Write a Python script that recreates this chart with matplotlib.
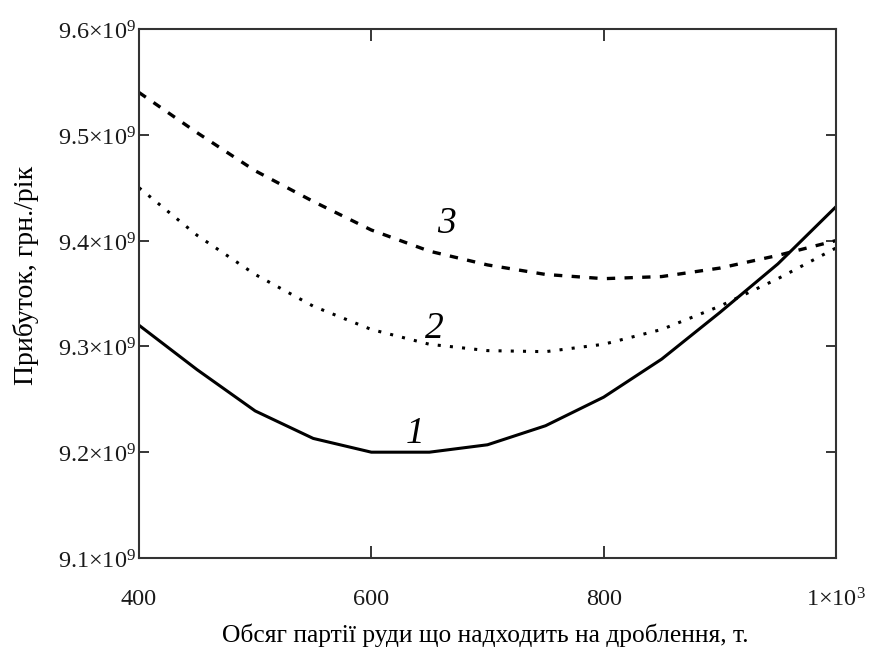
import matplotlib
matplotlib.use("Agg")
import matplotlib.pyplot as plt
from matplotlib.ticker import FixedLocator, FixedFormatter
from matplotlib.transforms import ScaledTranslation

plt.rcParams['font.family'] = ['Liberation Serif', 'DejaVu Serif']
plt.rcParams['mathtext.fontset'] = 'custom'
plt.rcParams['mathtext.rm'] = 'Liberation Serif'
plt.rcParams['mathtext.it'] = 'Liberation Serif:italic'

# Batch size, t
batch = [400, 450, 500, 550, 600, 650, 700, 750, 800, 850, 900, 950, 1000]

# Profit, UAH/year (x1e9)
profit_1 = [9.320, 9.278, 9.239, 9.213, 9.200, 9.200, 9.207, 9.225, 9.252, 9.288, 9.332, 9.378, 9.432]
profit_2 = [9.450, 9.405, 9.368, 9.338, 9.316, 9.302, 9.296, 9.295, 9.302, 9.316, 9.338, 9.364, 9.393]
profit_3 = [9.540, 9.502, 9.466, 9.437, 9.410, 9.390, 9.377, 9.368, 9.364, 9.366, 9.374, 9.386, 9.400]

x_ticks = [400, 600, 800, 1000]
x_tick_labels = ["400", "600", "800", r"$1{\times}10^{3}$"]
y_ticks = [9.1e9, 9.2e9, 9.3e9, 9.4e9, 9.5e9, 9.6e9]
y_tick_labels = [r"$9.1{\times}10^{9}$", r"$9.2{\times}10^{9}$", r"$9.3{\times}10^{9}$",
                 r"$9.4{\times}10^{9}$", r"$9.5{\times}10^{9}$", r"$9.6{\times}10^{9}$"]

curve_labels = ["1", "2", "3"]
label_pos = [(637.5, 9.2089e9), (654.0, 9.3083e9), (665.0, 9.4068e9)]

fig = plt.figure(figsize=(8.73, 6.59), dpi=100)
ax = fig.add_axes([0.1592, 0.1533, 0.7984, 0.8027])

ax.plot(batch, [v * 1e9 for v in profit_1], color='black', lw=2.2, ls='-')
ax.plot(batch, [v * 1e9 for v in profit_2], color='black', lw=2.2, ls=(0, (1.0, 3.0)),
        dash_capstyle='butt')
ax.plot(batch, [v * 1e9 for v in profit_3], color='black', lw=2.4, ls=(0, (2.5, 2.8)),
        dash_capstyle='butt')

for txt, (xp, yp) in zip(curve_labels, label_pos):
    ax.text(xp, yp, txt, fontsize=27, style='italic', ha='center', va='baseline')

ax.set_xlim(400, 1000)
ax.set_ylim(9.1e9, 9.6e9)
ax.xaxis.set_major_locator(FixedLocator(x_ticks))
ax.xaxis.set_major_formatter(FixedFormatter(x_tick_labels))
ax.yaxis.set_major_locator(FixedLocator(y_ticks))
ax.yaxis.set_major_formatter(FixedFormatter(y_tick_labels))

ax.tick_params(direction='in', width=1.1, labelsize=17.5, top=True, right=True,
               labelcolor='#1a1a1a')
ax.tick_params(axis='x', pad=22, length=8.6)
ax.tick_params(axis='y', pad=2, length=7.2)
shift_down = ScaledTranslation(0, -4 / 100, fig.dpi_scale_trans)
for lbl in ax.get_yticklabels():
    lbl.set_verticalalignment('center')
    lbl.set_transform(lbl.get_transform() + shift_down)
for s in ax.spines.values():
    s.set_linewidth(1.5)
    s.set_color('#333333')

fig.text(26 / 873, 1 - 275 / 659, "Прибуток, грн./рік", fontsize=20,
         rotation=90, ha='center', va='center')
fig.text(485 / 873, 1 - 635 / 659, "Обсяг партії руди що надходить на дроблення, т.",
         fontsize=18.4, ha='center', va='center')

fig.savefig("out.png", dpi=100)
